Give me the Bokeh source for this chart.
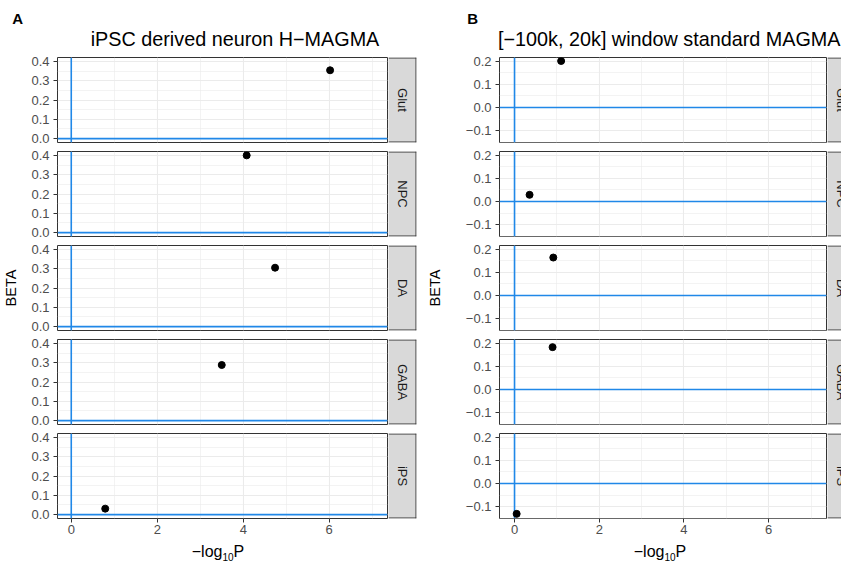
import math
from bokeh.plotting import figure
from bokeh.layouts import row, column
from bokeh.models import (Range1d, LinearAxis, FixedTicker, Grid, Span,
                          ColumnDataSource)
from bokeh.core.properties import value
from bokeh.embed import file_html
from bokeh.resources import INLINE

# ---------------- data ----------------
cell_types = ["Glut", "NPC", "DA", "GABA", "IPS"]
strip_labels_a = ["Glut", "NPC", "DA", "GABA", "iPS"]
strip_labels_b = ["Glut", "NPC", "DA", "GABA", "iPS"]

a_logp = [6.02, 4.08, 4.74, 3.50, 0.79]
a_beta = [0.354, 0.400, 0.305, 0.288, 0.031]

b_logp = [1.10, 0.355, 0.915, 0.898, 0.05]
b_beta = [0.201, 0.029, 0.164, 0.183, -0.131]

x_ticks = [0, 2, 4, 6]
x_minor = [1, 3, 5, 7]
x_tick_labels = ["0", "2", "4", "6"]

a_y_ticks = [0.0, 0.1, 0.2, 0.3, 0.4]
a_y_minor = [0.05, 0.15, 0.25, 0.35]
a_y_labels = ["0.0", "0.1", "0.2", "0.3", "0.4"]

b_y_ticks = [-0.1, 0.0, 0.1, 0.2]
b_y_minor = [-0.15, -0.05, 0.05, 0.15]
b_y_labels = ["\u22120.1", "0.0", "0.1", "0.2"]

title_a = "iPSC derived neuron H\u2212MAGMA"
title_b = "[\u2212100k, 20k] window standard MAGMA"

# ---------------- style ----------------
FONT = "Liberation Sans"
BLUE = "#2088E8"
BORDER = "#333333"
GRID = "#EBEBEB"
STRIP = "#D9D9D9"

HEADER_H = 53
TOP = 4
FRAME_H = 85
GAP = 5
XAX_H = 22
FOOTER_H = 21
TICK_FS = "13px"


def make_facet(xr, yr, yticks, yminor, ylabels, left, frame_w, bottom,
               show_x, show_ylab, ylab_standoff, xs, ys):
    p = figure(width=left + frame_w + 1, height=TOP + FRAME_H + bottom,
               x_range=Range1d(*xr), y_range=Range1d(*yr),
               x_axis_type=None, y_axis_type=None,
               output_backend="svg", toolbar_location=None,
               min_border_left=left, min_border_right=1,
               min_border_top=TOP, min_border_bottom=bottom,
               background_fill_color="white", border_fill_color="white")
    p.outline_line_color = BORDER
    p.outline_line_width = 1

    xt = FixedTicker(ticks=x_ticks, minor_ticks=x_minor)
    yt = FixedTicker(ticks=yticks, minor_ticks=yminor)

    p.add_layout(Grid(dimension=0, ticker=xt, grid_line_color=GRID,
                      grid_line_width=1.1, minor_grid_line_color=GRID,
                      minor_grid_line_width=0.6))
    p.add_layout(Grid(dimension=1, ticker=yt, grid_line_color=GRID,
                      grid_line_width=1.1, minor_grid_line_color=GRID,
                      minor_grid_line_width=0.6))

    yax = LinearAxis(ticker=yt,
                     major_label_overrides={t: s for t, s in zip(yticks, ylabels)},
                     axis_line_color=None,
                     major_tick_line_color=BORDER, major_tick_out=4,
                     major_tick_in=0, minor_tick_out=0, minor_tick_in=0,
                     major_label_text_font=FONT,
                     major_label_text_font_size=TICK_FS,
                     major_label_text_color="#4D4D4D",
                     major_label_standoff=4,
                     axis_label="BETA", axis_label_text_font=FONT,
                     axis_label_text_font_style="normal",
                     axis_label_text_font_size="14.5px",
                     axis_label_text_color="black",
                     axis_label_text_alpha=1.0 if show_ylab else 0.0,
                     axis_label_standoff=ylab_standoff)
    p.add_layout(yax, "left")

    if show_x:
        xax = LinearAxis(ticker=xt,
                         major_label_overrides={t: s for t, s in zip(x_ticks, x_tick_labels)},
                         axis_line_color=None,
                         major_tick_line_color=BORDER, major_tick_out=4,
                         major_tick_in=0, minor_tick_out=0, minor_tick_in=0,
                         major_label_text_font=FONT,
                         major_label_text_font_size=TICK_FS,
                         major_label_text_color="#4D4D4D",
                         major_label_standoff=2)
        p.add_layout(xax, "below")

    p.add_layout(Span(location=0, dimension="width", line_color=BLUE,
                      line_width=1.6, level="underlay"))
    p.add_layout(Span(location=0, dimension="height", line_color=BLUE,
                      line_width=1.6, level="underlay"))

    src = ColumnDataSource(dict(x=xs, y=ys))
    p.scatter("x", "y", source=src, size=7, color="black")
    return p


def make_strip(label, w, frame_w, bottom, right_edge, text_x):
    p = figure(width=w, height=TOP + FRAME_H + bottom,
               x_range=Range1d(0, frame_w), y_range=Range1d(0, FRAME_H),
               x_axis_type=None, y_axis_type=None,
               output_backend="svg", toolbar_location=None,
               min_border_left=0, min_border_right=w - frame_w,
               min_border_top=TOP, min_border_bottom=bottom,
               background_fill_color=STRIP, border_fill_color="white")
    p.outline_line_color = None
    p.grid.visible = False
    for loc in (0.5, FRAME_H - 0.5):
        p.add_layout(Span(location=loc, dimension="width",
                          line_color=BORDER, line_width=1))
    if right_edge:
        p.add_layout(Span(location=frame_w - 0.5, dimension="height",
                          line_color=BORDER, line_width=1))
    p.text(x=[text_x], y=[FRAME_H / 2], text=[label], angle=-math.pi / 2,
           text_align="center", text_baseline="middle",
           text_font=value(FONT), text_font_size="13px",
           text_color="#1A1A1A")
    return p


def make_box(w, h):
    p = figure(width=w, height=h, x_range=Range1d(0, w), y_range=Range1d(0, h),
               x_axis_type=None, y_axis_type=None,
               output_backend="svg", toolbar_location=None,
               min_border_left=0, min_border_right=0,
               min_border_top=0, min_border_bottom=0,
               background_fill_color="white", border_fill_color="white")
    p.outline_line_color = None
    p.grid.visible = False
    return p


def header(w, letter, letter_x, title, title_x):
    p = make_box(w, HEADER_H)
    p.text(x=[letter_x], y=[HEADER_H - 17.8], text=[letter], text_align="left",
           text_baseline="middle", text_font=value(FONT),
           text_font_style="bold", text_font_size="15px", text_color="black")
    p.text(x=[title_x], y=[HEADER_H - 38.5], text=[title], text_align="center",
           text_baseline="middle", text_font=value(FONT),
           text_font_size="19.8px", text_color="black")
    return p


def footer(w, center):
    p = make_box(w, FOOTER_H)
    main_fs, sub_fs = 16, 10
    w1 = 1.918 * main_fs
    w2 = 1.112 * sub_fs
    w3 = 0.667 * main_fs
    start = center - (w1 + w2 + w3) / 2
    p.text(x=[start], y=[10], text=["\u2212log"], text_align="left",
           text_baseline="middle", text_font=value(FONT),
           text_font_size=f"{main_fs}px", text_color="black")
    p.text(x=[start + w1], y=[5], text=["10"], text_align="left",
           text_baseline="middle", text_font=value(FONT),
           text_font_size=f"{sub_fs}px", text_color="black")
    p.text(x=[start + w1 + w2], y=[10], text=["P"], text_align="left",
           text_baseline="middle", text_font=value(FONT),
           text_font_size=f"{main_fs}px", text_color="black")
    return p


def panel(xr, yr, yticks, yminor, ylabels, left, frame_w, strip_w,
          strip_frame_w, strip_right_edge, strip_text_x, ylab_standoff,
          logp, beta, strip_labels, hdr, ftr):
    rows = [hdr]
    n = len(cell_types)
    for i in range(n):
        last = i == n - 1
        bottom = XAX_H if last else GAP
        f = make_facet(xr, yr, yticks, yminor, ylabels, left, frame_w, bottom,
                       last, i == 2, ylab_standoff, [logp[i]], [beta[i]])
        s = make_strip(strip_labels[i], strip_w, strip_frame_w, bottom,
                       strip_right_edge, strip_text_x)
        rows.append(row(f, s))
    rows.append(ftr)
    return column(*rows)


colA = panel((-0.32, 7.355), (-0.02, 0.42), a_y_ticks, a_y_minor, a_y_labels,
             57, 330, 32, 28, True, 13.5, 9, a_logp, a_beta, strip_labels_a,
             header(420, "A", 11.7, title_a, 234.5),
             footer(420, 217.5))

colB = panel((-0.355, 7.365), (-0.151, 0.216), b_y_ticks, b_y_minor, b_y_labels,
             79, 327, 14, 14, False, 13.5, 20, b_logp, b_beta, strip_labels_b,
             header(421, "B", 46.7, title_b, 248.8),
             footer(421, 239.5))

layout = row(colA, colB)

open("out.html", "w").write(file_html(layout, INLINE))
